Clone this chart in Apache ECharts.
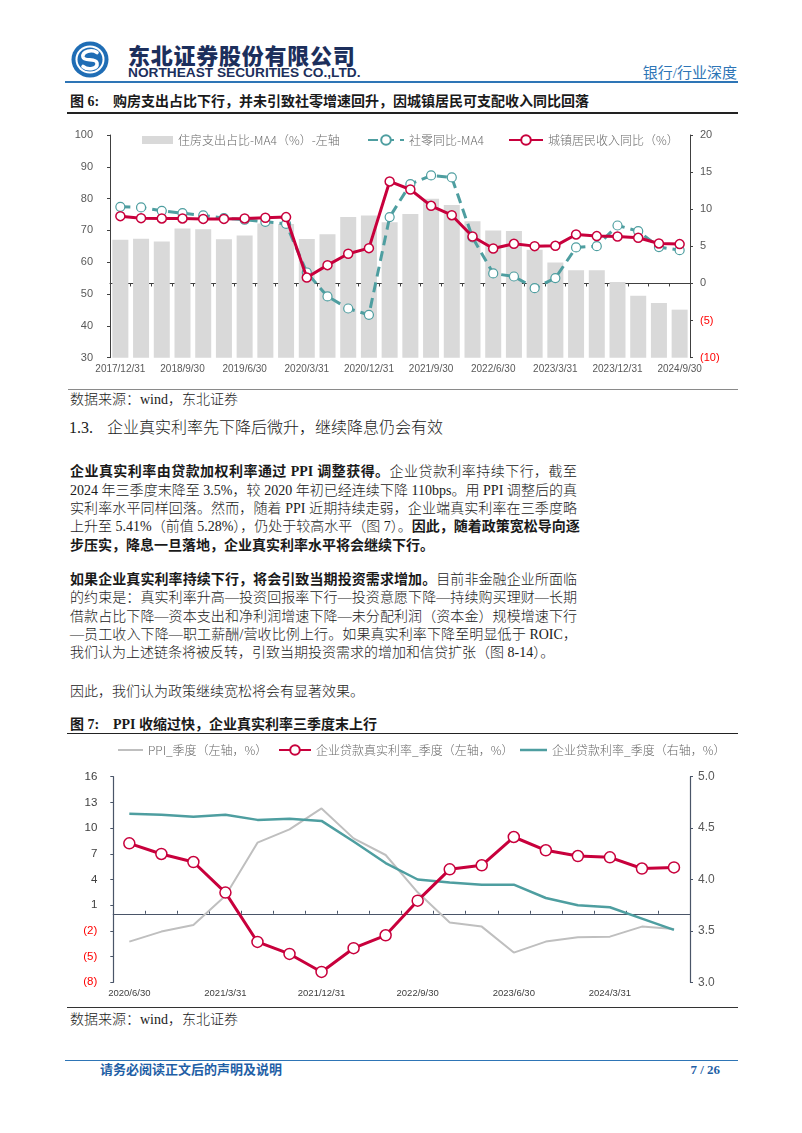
<!DOCTYPE html>
<html><head><meta charset="utf-8">
<script src="https://cdn.jsdelivr.net/npm/echarts/dist/echarts.min.js"></script>
<style>
body{margin:0;width:802px;height:1133px;position:relative;background:#fff;overflow:hidden;}
.a{position:absolute;white-space:nowrap;}
.s{font-family:"Liberation Serif","Noto Sans CJK SC",serif;color:#1a1a1a;}
.pl{position:absolute;left:70px;width:507px;height:18px;line-height:18px;font-size:14px;text-align:justify;text-align-last:justify;white-space:nowrap;font-weight:300;}
.pl.l{text-align-last:left;}
b{font-weight:700;}
.hr{position:absolute;}
</style></head><body>
<!-- header -->
<svg class="a" style="left:71px;top:41px" width="38" height="37" viewBox="0 0 38 37">
<ellipse cx="19" cy="18.5" rx="18.5" ry="18" fill="#1F6DB5"/>
<ellipse cx="19" cy="18.5" rx="14.5" ry="14" fill="#fff"/>
<ellipse cx="19" cy="18.5" rx="12.5" ry="12" fill="#1F6DB5"/>
<path d="M26 11.5 C 21 8, 11 10, 12 16 C 13 21, 25 16.5, 26 22 C 27 28, 17 29.5, 12 25.5" stroke="#fff" stroke-width="3.6" fill="none" stroke-linecap="round"/>
</svg>
<div class="a" style="left:128px;top:41px;font-family:'Noto Sans CJK SC';font-weight:900;font-size:22px;line-height:26px;letter-spacing:0.75px;color:#1c2f5c;">东北证券股份有限公司</div>
<div class="a" style="left:128px;top:64.7px;font-family:'Liberation Sans';font-weight:700;font-size:13.7px;line-height:16px;color:#1c2f5c;">NORTHEAST SECURITIES CO.,LTD.</div>
<div class="a s" style="right:65px;top:63px;font-size:15px;line-height:20px;color:#2E75B6;">银行/行业深度</div>
<div class="hr" style="left:65px;top:81px;width:673px;height:1.5px;background:#2E75B6;"></div>

<!-- figure 6 title -->
<div class="a s" style="left:70px;top:93.3px;font-size:14px;line-height:18px;font-weight:700;"><span style="display:inline-block;width:43px;">图&nbsp;6:</span>购房支出占比下行，并未引致社零增速回升，因城镇居民可支配收入同比回落</div>
<div class="hr" style="left:67px;top:112px;width:671px;height:1.5px;background:#222;"></div>

<div id="c1" class="a" style="left:0;top:118px;width:802px;height:270px;"></div>

<div class="hr" style="left:68px;top:389px;width:670px;height:1px;background:#8a8a8a;"></div>
<div class="a s" style="left:70px;top:391px;font-size:14px;line-height:18px;font-weight:300;">数据来源：wind，东北证券</div>

<div class="a s" style="left:69px;top:418.3px;font-size:16px;line-height:20px;font-weight:300;">1.3.</div>
<div class="a s" style="left:107px;top:418.3px;font-size:16px;line-height:20px;font-weight:300;">企业真实利率先下降后微升，继续降息仍会有效</div>

<div class="pl s" style="top:463.3px;"><b>企业真实利率由贷款加权利率通过 PPI 调整获得。</b>企业贷款利率持续下行，截至</div>
<div class="pl s" style="top:481.7px;">2024 年三季度末降至 3.5%，较 2020 年初已经连续下降 110bps。用 PPI 调整后的真</div>
<div class="pl s" style="top:500px;">实利率水平同样回落。然而，随着 PPI 近期持续走弱，企业端真实利率在三季度略</div>
<div class="pl s" style="top:518.3px;">上升至 5.41%（前值 5.28%），仍处于较高水平（图 7）。<b>因此，随着政策宽松导向逐</b></div>
<div class="pl s l" style="top:536.7px;"><b>步压实，降息一旦落地，企业真实利率水平将会继续下行。</b></div>

<div class="pl s" style="top:571px;"><b>如果企业真实利率持续下行，将会引致当期投资需求增加。</b>目前非金融企业所面临</div>
<div class="pl s" style="top:589.3px;">的约束是：真实利率升高—投资回报率下行—投资意愿下降—持续购买理财—长期</div>
<div class="pl s" style="top:607.7px;">借款占比下降—资本支出和净利润增速下降—未分配利润（资本金）规模增速下行</div>
<div class="pl s" style="top:626px;">—员工收入下降—职工薪酬/营收比例上行。如果真实利率下降至明显低于 ROIC，</div>
<div class="pl s l" style="top:644.3px;">我们认为上述链条将被反转，引致当期投资需求的增加和信贷扩张（图 8-14）。</div>

<div class="pl s l" style="top:682.7px;">因此，我们认为政策继续宽松将会有显著效果。</div>

<!-- figure 7 title -->
<div class="a s" style="left:70px;top:716px;font-size:14px;line-height:18px;font-weight:700;"><span style="display:inline-block;width:43px;">图&nbsp;7:</span>PPI 收缩过快，企业真实利率三季度末上行</div>
<div class="hr" style="left:67px;top:732.5px;width:671px;height:1.5px;background:#222;"></div>

<div id="c2" class="a" style="left:0;top:737px;width:802px;height:268px;"></div>

<div class="hr" style="left:67px;top:1006.5px;width:671px;height:1.5px;background:#333;"></div>
<div class="a s" style="left:70px;top:1011px;font-size:14px;line-height:18px;font-weight:300;">数据来源：wind，东北证券</div>

<!-- footer -->
<div class="hr" style="left:65px;top:1059.5px;width:673px;height:1px;background:#2E75B6;"></div>
<div class="a s" style="left:100px;top:1061px;font-size:13px;line-height:17px;font-weight:700;color:#1F5FA6;">请务必阅读正文后的声明及说明</div>
<div class="a s" style="right:82px;top:1061px;font-size:13px;line-height:17px;font-weight:700;color:#1F5FA6;">7 / 26</div>

<script>
// ---------- Figure 6 data ----------
const cats1 = ['2017/12/31','2018/3/31','2018/6/30','2018/9/30','2018/12/31','2019/3/31','2019/6/30','2019/9/30','2019/12/31','2020/3/31','2020/6/30','2020/9/30','2020/12/31','2021/3/31','2021/6/30','2021/9/30','2021/12/31','2022/3/31','2022/6/30','2022/9/30','2022/12/31','2023/3/31','2023/6/30','2023/9/30','2023/12/31','2024/3/31','2024/6/30','2024/9/30'];
const housingShare = [67.1,67.4,66.5,70.6,70.4,67.2,68.4,72.2,72.0,67.3,68.8,74.2,74.7,72.6,75.2,80.0,78.0,72.9,70.0,69.8,63.9,59.9,57.5,57.5,53.8,49.5,47.2,45.1];
const retailYoY = [10.33,10.24,9.79,9.47,9.16,8.8,8.58,8.3,8.04,1.48,-1.75,-3.37,-4.22,8.94,13.38,14.55,14.28,6.2,1.35,0.94,-0.63,0.72,4.85,5.03,7.81,7.05,4.9,4.49];
const incomeYoY = [9.07,8.8,8.76,8.76,8.7,8.7,8.76,8.85,8.94,0.8,2.47,4.0,4.76,13.74,12.66,10.46,9.2,6.33,4.71,5.34,5.03,5.07,6.6,6.38,6.33,6.15,5.39,5.3];
const names1 = ['住房支出占比-MA4（%）-左轴','社零同比-MA4','城镇居民收入同比（%）'];

// ---------- Figure 7 data ----------
const cats2 = ['2020/6/30','2020/9/30','2020/12/31','2021/3/31','2021/6/30','2021/9/30','2021/12/31','2022/3/31','2022/6/30','2022/9/30','2022/12/31','2023/3/31','2023/6/30','2023/9/30','2023/12/31','2024/3/31','2024/6/30','2024/9/30'];
const ppi = [-3.25,-2.08,-1.3,2.1,8.3,9.85,12.3,8.8,6.86,2.5,-1.03,-1.5,-4.53,-3.25,-2.74,-2.67,-1.5,-1.78];
const realRate = [8.22,6.98,6.04,2.47,-3.29,-4.69,-6.79,-4.02,-2.51,1.53,5.19,5.66,8.96,7.41,6.74,6.59,5.28,5.41];
const loanRate = [4.64,4.63,4.61,4.63,4.58,4.59,4.57,4.37,4.16,4.00,3.97,3.95,3.95,3.82,3.75,3.73,3.62,3.51];
const names2 = ['PPI_季度（左轴，%）','企业贷款真实利率_季度（左轴，%）','企业贷款利率_季度（右轴，%）'];

const RED = '#C8003C', TEAL = '#4E9EA0', GRAYBAR = '#D9D9D9', SLATE = '#4A5568';
const LBL = '#595959';
const legendText = {fontFamily:'Noto Sans CJK SC', fontSize:12, color:'#6a6a6a', fontWeight:300};
const negFmt = v => v < 0 ? '{n|(' + (-v) + ')}' : '{p|' + v + '}';
const richFor = (fs, col) => ({n:{color:'#FF0000', fontSize:fs, fontFamily:'Liberation Sans'}, p:{color:col, fontSize:fs, fontFamily:'Liberation Sans'}});

const c1 = echarts.init(document.getElementById('c1'), null, {renderer:'canvas'});
c1.setOption({
  animation:false,
  grid:{left:110, right:112, top:17, bottom:30.3},
  legend:[
    {left:137, top:11, icon:'rect', itemWidth:31, itemHeight:8, data:[names1[0]], textStyle:legendText, selectedMode:false},
    {left:362, top:11, itemWidth:36, itemHeight:12, data:[names1[1]], textStyle:legendText, selectedMode:false},
    {left:503, top:11, itemWidth:34, itemHeight:12, data:[names1[2]], textStyle:legendText, selectedMode:false}
  ],
  xAxis:{type:'category', data:cats1, boundaryGap:true,
    axisLine:{lineStyle:{color:'#404040', width:1}},
    axisTick:{show:true, interval:0, length:3, lineStyle:{color:'#404040'}},
    axisLabel:{interval:2, margin:7, fontSize:10, color:LBL, fontFamily:'Liberation Sans'}},
  yAxis:[
    {type:'value', min:30, max:100, interval:10, position:'left',
      axisLine:{show:true, lineStyle:{color:'#404040', width:1}},
      axisTick:{show:true, length:3, lineStyle:{color:'#404040'}},
      splitLine:{show:false},
      axisLabel:{margin:17, fontSize:11, color:LBL, fontFamily:'Liberation Sans'}},
    {type:'value', min:-10, max:20, interval:5, position:'right',
      axisLine:{show:true, lineStyle:{color:'#404040', width:1}},
      axisTick:{show:true, length:3, lineStyle:{color:'#404040'}},
      splitLine:{show:false},
      axisLabel:{margin:10, formatter:negFmt, rich:richFor(11, LBL)}}
  ],
  series:[
    {name:names1[0], type:'bar', data:housingShare, barWidth:16, itemStyle:{color:GRAYBAR}, z:1, silent:true},
    {name:names1[1], type:'line', yAxisIndex:1, data:retailYoY, symbol:'circle', symbolSize:9,
      itemStyle:{color:'#fff', borderColor:TEAL, borderWidth:1.2},
      lineStyle:{color:TEAL, width:3, type:[10,6]}, z:3, silent:true},
    {name:names1[2], type:'line', yAxisIndex:1, data:incomeYoY, symbol:'circle', symbolSize:9,
      itemStyle:{color:'#fff', borderColor:RED, borderWidth:1.5},
      lineStyle:{color:RED, width:3}, z:4, silent:true}
  ]
});

const c2 = echarts.init(document.getElementById('c2'), null, {renderer:'canvas'});
c2.setOption({
  animation:false,
  grid:{left:113.3, right:112, top:39.7, bottom:22.7},
  legend:[
    {left:113, top:2, icon:'rect', itemWidth:25, itemHeight:2, data:[names2[0]], textStyle:legendText, selectedMode:false},
    {left:273, top:2, itemWidth:32, itemHeight:12, data:[names2[1]], textStyle:legendText, selectedMode:false},
    {left:515, top:2, icon:'rect', itemWidth:27, itemHeight:2.5, data:[names2[2]], textStyle:legendText, selectedMode:false}
  ],
  xAxis:[
    {type:'category', data:cats2, position:'bottom', boundaryGap:true,
      axisLine:{show:false}, axisTick:{show:false},
      axisLabel:{interval:2, margin:6, fontSize:9.5, color:'#404040', fontFamily:'Liberation Sans'}},
    {type:'category', data:cats2, position:'bottom', boundaryGap:true,
      axisLine:{show:true, onZero:true, onZeroAxisIndex:0, lineStyle:{color:SLATE, width:1.2}},
      axisTick:{show:true, inside:true, interval:0, length:3, lineStyle:{color:SLATE}},
      axisLabel:{show:false}}
  ],
  yAxis:[
    {type:'value', min:-8, max:16, interval:3, position:'left',
      axisLine:{show:true, onZero:false, lineStyle:{color:SLATE, width:1.2}},
      axisTick:{show:true, length:3, lineStyle:{color:SLATE}},
      splitLine:{show:false},
      axisLabel:{margin:16, formatter:negFmt, rich:richFor(11.5, '#404040')}},
    {type:'value', min:3, max:5, interval:0.5, position:'right',
      axisLine:{show:true, onZero:false, lineStyle:{color:SLATE, width:1.2}},
      axisTick:{show:true, length:3, lineStyle:{color:SLATE}},
      splitLine:{show:false},
      axisLabel:{margin:8, fontSize:12, color:LBL, fontFamily:'Liberation Sans', formatter:v => v.toFixed(1)}}
  ],
  series:[
    {name:names2[0], type:'line', data:ppi, symbol:'none', lineStyle:{color:'#BFBFBF', width:2}, itemStyle:{color:'#BFBFBF'}, z:2, silent:true},
    {name:names2[1], type:'line', data:realRate, symbol:'circle', symbolSize:11,
      itemStyle:{color:'#fff', borderColor:RED, borderWidth:1.5},
      lineStyle:{color:RED, width:3}, z:4, silent:true},
    {name:names2[2], type:'line', yAxisIndex:1, data:loanRate, symbol:'none',
      lineStyle:{color:TEAL, width:2.5}, itemStyle:{color:TEAL}, z:3, silent:true}
  ]
});
</script>
</body></html>
